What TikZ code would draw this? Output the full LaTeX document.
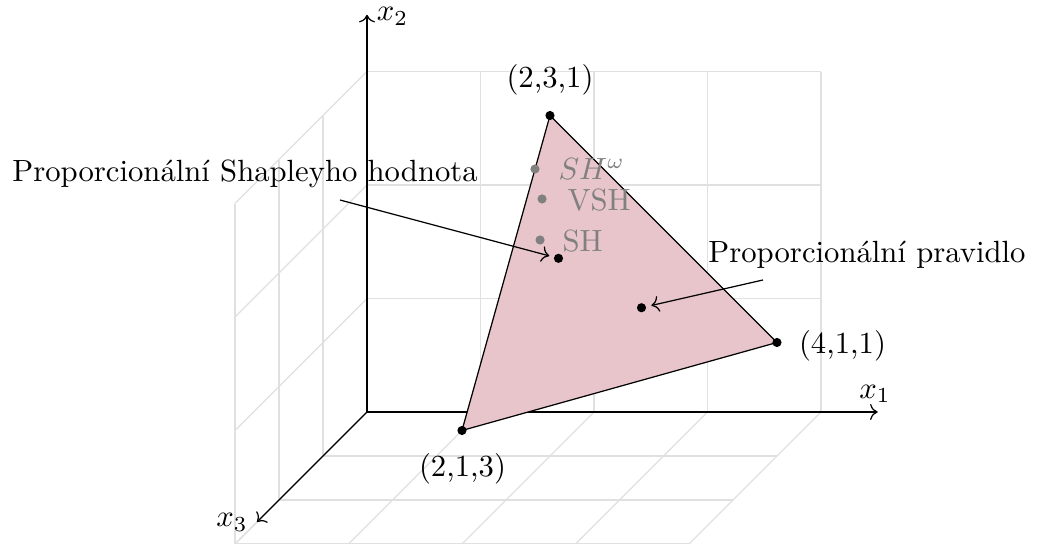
\documentclass[tikz,border=0pt]{standalone}
\usetikzlibrary{arrows.meta}
\definecolor{trifill}{RGB}{232,197,202}
\definecolor{gridc}{RGB}{224,224,224}
\definecolor{greyc}{RGB}{128,128,128}
\begin{document}
\begin{tikzpicture}[x={(1.3cm,0cm)}, y={(0cm,1.3cm)}, z={(-0.504cm,-0.504cm)},
  gridline/.style={gridc, line width=0.4pt},
  axisline/.style={->, black, line width=0.4pt},
  dot/.style={circle, fill=black, inner sep=0pt, minimum size=0.105cm},
  greydot/.style={dot, fill=greyc},
  greylabel/.style={text=greyc, anchor=base west, inner sep=0pt},
  plainlabel/.style={inner sep=0pt, anchor=base},
  pointer/.style={->, line width=0.4pt}]
\useasboundingbox (-4.204cm,-1.512cm) rectangle (7.686cm,4.719cm);
% back wall grid (x3 = 0)
\foreach \i in {0,...,4} \draw[gridline] (\i,0,0) -- (\i,3,0);
\foreach \j in {0,...,3} \draw[gridline] (0,\j,0) -- (4,\j,0);
% left wall grid (x1 = 0)
\foreach \k in {0,...,3} \draw[gridline] (0,0,\k) -- (0,3,\k);
\foreach \j in {0,...,3} \draw[gridline] (0,\j,0) -- (0,\j,3);
% floor grid (x2 = 0)
\foreach \i in {0,...,4} \draw[gridline] (\i,0,0) -- (\i,0,3);
\foreach \k in {0,...,3} \draw[gridline] (0,0,\k) -- (4,0,\k);
% axes
\coordinate (O) at (0,0,0);
\coordinate (E1) at (4.5,0,0);
\coordinate (E2) at (0,3.5,0);
\coordinate (E3) at (0,0,2.5);
\draw[axisline] (O) -- (E1);
\draw[axisline] (O) -- (E2);
\draw[axisline] (O) -- (E3);
\node[plainlabel] (lx1) at (5.819cm,0.160cm) {$x_1$};
\node[plainlabel] (lx2) at (0.292cm,4.482cm) {$x_2$};
\node[plainlabel] (lx3) at (-1.546cm,-1.314cm) {$x_3$};
% triangle
\coordinate (A) at (2,3,1);
\coordinate (B) at (4,1,1);
\coordinate (C) at (2,1,3);
\filldraw[fill=trifill, draw=black, line width=0.4pt] (A) -- (B) -- (C) -- cycle;
\node[dot] (dA) at (A) {};
\node[dot] (dB) at (B) {};
\node[dot] (dC) at (C) {};
\node[plainlabel] (lA) at (2.096cm,3.719cm) {(2,3,1)};
\node[plainlabel] (lB) at (5.447cm,0.672cm) {(4,1,1)};
\node[plainlabel] (lC) at (1.094cm,-0.741cm) {(2,1,3)};
% grey points
\node[greydot] (g1) at (1.924cm,2.783cm) {};
\node[greydot] (g2) at (2.005cm,2.440cm) {};
\node[greydot] (g3) at (1.982cm,1.970cm) {};
\node[greylabel] (lg1) at (2.188cm,2.663cm) {$SH^\omega$};
\node[greylabel] (lg2) at (2.291cm,2.308cm) {VSH};
\node[greylabel] (lg3) at (2.234cm,1.838cm) {SH};
% black points
\node[dot] (dS) at (2.3333,2,1.6667) {};
\node[dot] (dP) at (3,1.5,1.5) {};
% annotations
\node[plainlabel] (lS) at (-1.397cm,2.635cm) {Proporcionální Shapleyho hodnota};
\node[plainlabel] (lP) at (5.727cm,1.710cm) {Proporcionální pravidlo};
\coordinate (sS) at (-0.309cm,2.428cm);
\coordinate (sP) at (4.536cm,1.512cm);
\draw[pointer, shorten >=1.4pt] (sS) -- (dS);
\draw[pointer, shorten >=1.6pt] (sP) -- (dP);
\end{tikzpicture}
\end{document}
